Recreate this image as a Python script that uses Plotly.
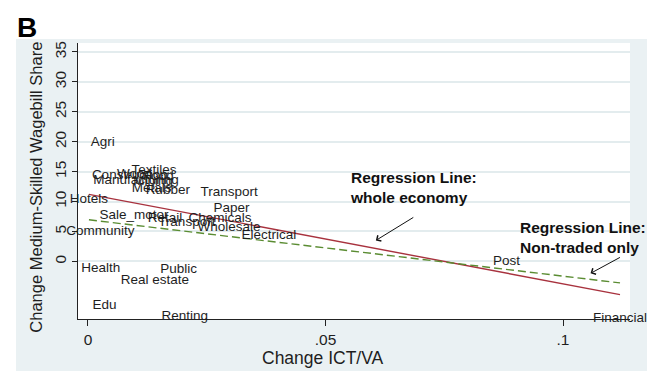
import plotly.graph_objects as go

# Industry labels and their (Change ICT/VA, Change medium-skilled wagebill share) positions
industries = [
    "Agri", "Textiles", "Construction", "Wood", "Food", "Manufacturing", "Mining",
    "Metals", "Rubber", "Transport", "Hotels", "Paper", "Sale_motor", "Retail",
    "Chemicals", "Transport", "Wholesale", "Community", "Electrical", "Post",
    "Health", "Public", "Real estate", "Edu", "Renting", "Financial",
]
ict_change = [
    0.0031, 0.0139, 0.0088, 0.0098, 0.0148, 0.0101, 0.0137,
    0.0134, 0.0168, 0.0297, 0.0002, 0.0302, 0.0097, 0.0162,
    0.0278, 0.0208, 0.0297, 0.0026, 0.0381, 0.0881,
    0.0027, 0.0191, 0.0141, 0.0035, 0.0204, 0.1120,
]
wagebill_change = [
    19.8, 15.1, 14.3, 14.45, 14.2, 13.5, 13.3,
    12.2, 11.8, 11.5, 10.4, 8.8, 7.6, 7.2,
    7.1, 6.4, 5.7, 5.0, 4.3, 0.0,
    -1.27, -1.4, -3.2, -7.4, -9.3, -9.6,
]

# Fitted regression lines over the observed ICT/VA range
fit_x = [0.0002, 0.1120]
fit_whole = [11.2, -5.55]
fit_nontraded = [6.95, -3.6]

y_ticks = [0, 5, 10, 15, 20, 25, 30, 35]
x_ticks = [0, 0.05, 0.1]
x_ticktext = ["0", ".05", ".1"]

FONT = "Arial, Liberation Sans, Helvetica, sans-serif"
PANEL = "#eaf1f3"
INK = "#1e1e1e"

fig = go.Figure()

fig.add_trace(go.Scatter(
    x=fit_x, y=fit_whole, mode="lines",
    line=dict(color="#a8323e", width=1.4),
    hoverinfo="skip", showlegend=False,
))
fig.add_trace(go.Scatter(
    x=fit_x, y=fit_nontraded, mode="lines",
    line=dict(color="#5a8c32", width=1.4, dash="8px,4px"),
    hoverinfo="skip", showlegend=False,
))
fig.add_trace(go.Scatter(
    x=ict_change, y=wagebill_change, mode="text",
    text=industries, textposition="middle center",
    textfont=dict(family=FONT, size=13.5, color=INK),
    cliponaxis=False, showlegend=False,
))

annotations = [
    dict(x=0.0547, y=12.4, xref="x", yref="y", xanchor="left", yanchor="middle",
         align="left", showarrow=False,
         text="<b>Regression Line:<br>whole economy</b>",
         font=dict(family=FONT, size=15.5, color="#111")),
    dict(x=0.0906, y=4.06, xref="x", yref="y", xanchor="left", yanchor="middle",
         align="left", showarrow=False,
         text="<b>Regression Line:<br>Non-traded only</b>",
         font=dict(family=FONT, size=15.5, color="#111")),
    # arrows pointing at the two lines
    dict(x=0.0606, y=3.5, ax=0.0688, ay=7.5, xref="x", yref="y", axref="x", ayref="y",
         text="", showarrow=True, arrowhead=4, arrowsize=1.3, arrowwidth=1,
         arrowcolor="#111"),
    dict(x=0.1058, y=-2.0, ax=0.1123, ay=0.8, xref="x", yref="y", axref="x", ayref="y",
         text="", showarrow=True, arrowhead=4, arrowsize=1.3, arrowwidth=1,
         arrowcolor="#111"),
    # axis titles
    dict(x=0.444, y=-0.141, xref="paper", yref="paper", xanchor="center", yanchor="middle",
         showarrow=False, text="Change ICT/VA",
         font=dict(family=FONT, size=17.5, color=INK)),
    dict(x=-0.076, y=0.476, xref="paper", yref="paper", xanchor="center", yanchor="middle",
         showarrow=False, textangle=-90, text="Change Medium-Skilled Wagebill Share",
         font=dict(family=FONT, size=16.5, color=INK)),
    # panel letter
    dict(x=-0.115, y=1.12, xref="paper", yref="paper", xanchor="left", yanchor="top",
         showarrow=False, text="<b>B</b>",
         font=dict(family=FONT, size=28, color="#000")),
]

shapes = [
    dict(type="rect", xref="paper", yref="paper", x0=-0.1123, x1=1.0308,
         y0=-0.19, y1=1.0145, fillcolor=PANEL, line=dict(width=0), layer="below"),
    dict(type="rect", xref="paper", yref="paper", x0=0, x1=1, y0=0, y1=1,
         fillcolor="white", line=dict(width=0), layer="below"),
]

fig.update_layout(
    width=666, height=371,
    margin=dict(l=78, r=36, t=43, b=52),
    paper_bgcolor="white", plot_bgcolor="white",
    annotations=annotations, shapes=shapes,
    showlegend=False,
    xaxis=dict(
        range=[-0.0021, 0.1141], tickvals=x_ticks, ticktext=x_ticktext,
        showgrid=False, zeroline=False,
        showline=True, linecolor="#222", linewidth=1.2,
        ticks="outside", ticklen=6, tickcolor="#222", tickwidth=1,
        tickfont=dict(family=FONT, size=15.5, color=INK),
    ),
    yaxis=dict(
        range=[-9.63, 36.5], tickvals=y_ticks,
        showgrid=True, gridcolor="#e3ecee", gridwidth=1.5, zeroline=False,
        showline=True, linecolor="#222", linewidth=1.2,
        ticks="outside", ticklen=5, tickcolor="#222", tickwidth=1,
        tickangle=-90,
        tickfont=dict(family=FONT, size=15.5, color=INK),
    ),
)

fig.write_html("out.html")
